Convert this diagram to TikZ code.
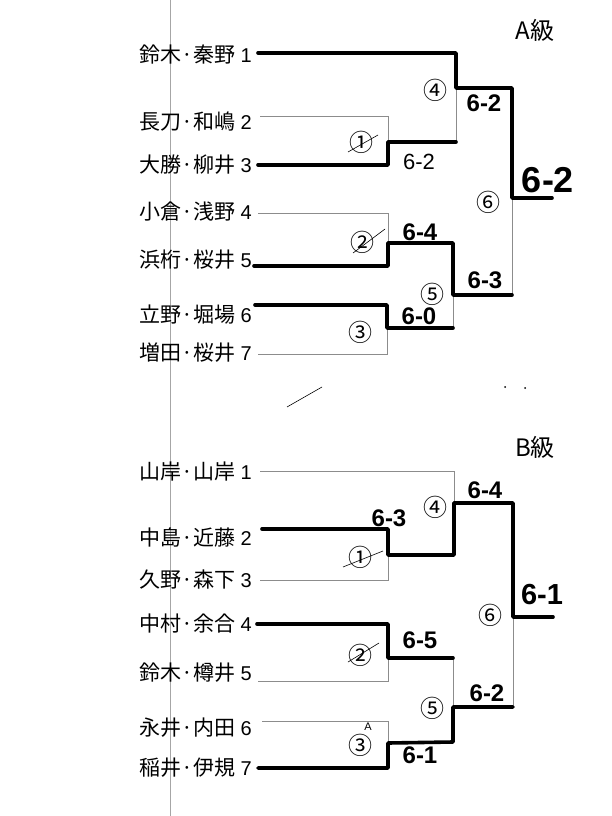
\documentclass[tikz,border=0pt]{standalone}
\usepackage{fontspec}
\setmainfont{Liberation Sans}
\newfontfamily\cjk{Noto Sans CJK JP}
\tikzset{
  thn/.style={draw=black!45, line width=0.6pt},
  thk/.style={draw=black, line width=3.6pt, line cap=round, line join=round},
  pname/.style={anchor=east, inner sep=0pt, font=\fontsize{20}{20}\selectfont},
  score/.style={inner sep=0pt, font=\bfseries\fontsize{24}{24}\selectfont},
  bigscore/.style={inner sep=0pt, font=\bfseries\fontsize{36}{36}\selectfont},
  midscore/.style={inner sep=0pt, font=\bfseries\fontsize{29}{29}\selectfont},
  smallscore/.style={inner sep=0pt, font=\fontsize{22}{22}\selectfont},
  circ/.style={inner sep=0pt, font=\cjk\fontsize{24}{24}\selectfont},
  grade/.style={inner sep=0pt, font=\cjk\fontsize{24}{24}\selectfont},
  slash/.style={draw=black, line width=0.6pt},
}
\newcommand{\nm}[2]{{\cjk\fontsize{21}{21}\selectfont #1}\hspace{5pt}#2}
\begin{document}
\begin{tikzpicture}[x=1pt,y=-1pt]
\fill[white] (0,0) rectangle (612,816);
\useasboundingbox (0,0) rectangle (612,816);
\draw[draw=black!35, line width=0.5pt] (170,0) -- (170,816);

% ---------------- A class ----------------
\node[grade] (Agrade) at (535,30) {A級};
\node[pname] (An1) at (252,55)  {\nm{鈴木·秦野}{1}};
\node[pname] (An2) at (252,122) {\nm{長刀·和嶋}{2}};
\node[pname] (An3) at (252,165) {\nm{大勝·柳井}{3}};
\node[pname] (An4) at (252,212) {\nm{小倉·浅野}{4}};
\node[pname] (An5) at (252,260) {\nm{浜桁·桜井}{5}};
\node[pname] (An6) at (252,315) {\nm{立野·堀場}{6}};
\node[pname] (An7) at (252,353) {\nm{増田·桜井}{7}};

\coordinate (A1) at (258,53);  \coordinate (A2) at (260,116);
\coordinate (A3) at (258,165); \coordinate (A4) at (258,213);
\coordinate (A5) at (254,266); \coordinate (A6) at (255,305);
\coordinate (A7) at (258,354);
\coordinate (Am1t) at (388,116); \coordinate (Am1b) at (388,165); \coordinate (Am1w) at (388,142);
\coordinate (Am2t) at (388,213); \coordinate (Am2b) at (388,266); \coordinate (Am2w) at (388,243);
\coordinate (Am3t) at (387,305); \coordinate (Am3b) at (387,354); \coordinate (Am3w) at (387,328);
\coordinate (Am4t) at (456,53);  \coordinate (Am4b) at (456,142); \coordinate (Am4w) at (456,88);
\coordinate (Am5t) at (453,243); \coordinate (Am5b) at (453,328); \coordinate (Am5w) at (453,295);
\coordinate (Am6t) at (512,88);  \coordinate (Am6b) at (512,295); \coordinate (Am6w) at (512,198);
\coordinate (Awin) at (552,198);

\draw[thn] (A2) -- (Am1t) -- (Am1w);
\draw[thn] (Am4w) -- (Am4b);
\draw[thn] (Am6w) -- (Am6b);
\draw[thn] (A4) -- (Am2t) -- (Am2w);
\draw[thn] (Am5w) -- (Am5b);
\draw[thn] (A7) -- (Am3b) -- (Am3w);

\draw[thk] (A1) -- (Am4t) -- (Am4w) -- (Am6t) -- (Am6w) -- (Awin);
\draw[thk] (A3) -- (Am1b) -- (Am1w) -- (Am4b);
\draw[thk] (A5) -- (Am2b) -- (Am2w) -- (Am5t) -- (Am5w) -- (Am6b);
\draw[thk] (A6) -- (Am3t) -- (Am3w) -- (Am5b);

\node[circ] (Ac4) at (435,90) {④};
\node[score] (As4) at (484,103) {6-2};
\node[circ] (Ac1) at (361,142) {①};
\draw[slash] (348,152) -- (378,135);
\node[smallscore] (As1) at (419,162) {6-2};
\node[bigscore] (As6) at (548,180) {6-2};
\node[circ] (Ac6) at (488,202) {⑥};
\node[score] (As2) at (420,232) {6-4};
\node[circ] (Ac2) at (362,242) {②};
\draw[slash] (353,253) -- (385,229);
\node[score] (As5) at (485,280) {6-3};
\node[circ] (Ac5) at (432,294) {⑤};
\node[score] (As3) at (419,316) {6-0};
\node[circ] (Ac3) at (360,332) {③};

% stray marks
\draw[slash] (287,407) -- (322,387);
\fill (505,387) circle (1pt);
\fill (525,388) circle (1pt);

% ---------------- B class ----------------
\node[grade] (Bgrade) at (535,447) {B級};
\node[pname] (Bn1) at (252,472) {\nm{山岸·山岸}{1}};
\node[pname] (Bn2) at (252,538) {\nm{中島·近藤}{2}};
\node[pname] (Bn3) at (252,580) {\nm{久野·森下}{3}};
\node[pname] (Bn4) at (252,624) {\nm{中村·余合}{4}};
\node[pname] (Bn5) at (252,673) {\nm{鈴木·樽井}{5}};
\node[pname] (Bn6) at (252,728) {\nm{永井·内田}{6}};
\node[pname] (Bn7) at (252,768) {\nm{稲井·伊規}{7}};

\coordinate (B1) at (260,471); \coordinate (B2) at (262,529);
\coordinate (B3) at (260,580); \coordinate (B4) at (257,624);
\coordinate (B5) at (258,681); \coordinate (B6) at (262,721);
\coordinate (B7) at (258,768);
\coordinate (Bm1t) at (388,529); \coordinate (Bm1b) at (388,580); \coordinate (Bm1w) at (388,555);
\coordinate (Bm2t) at (388,624); \coordinate (Bm2b) at (388,681); \coordinate (Bm2w) at (388,658);
\coordinate (Bm3t) at (388,721); \coordinate (Bm3b) at (388,768); \coordinate (Bm3w) at (388,743);
\coordinate (Bm4t) at (454,471); \coordinate (Bm4b) at (454,555); \coordinate (Bm4w) at (454,503);
\coordinate (Bm5t) at (453,658); \coordinate (Bm5b) at (453,742); \coordinate (Bm5w) at (453,707);
\coordinate (Bm6t) at (513,503); \coordinate (Bm6b) at (513,707); \coordinate (Bm6w) at (513,617);
\coordinate (Bwin) at (553,617);

\draw[thn] (B1) -- (Bm4t) -- (Bm4w);
\draw[thn] (B3) -- (Bm1b) -- (Bm1w);
\draw[thn] (B5) -- (Bm2b) -- (Bm2w);
\draw[thn] (Bm5t) -- (Bm5w);
\draw[thn] (B6) -- (Bm3t) -- (Bm3w);
\draw[thn] (Bm6w) -- (Bm6b);

\draw[thk] (B2) -- (Bm1t) -- (Bm1w) -- (Bm4b) -- (Bm4w) -- (Bm6t) -- (Bm6w) -- (Bwin);
\draw[thk] (B4) -- (Bm2t) -- (Bm2w) -- (Bm5t);
\draw[thk] (B7) -- (Bm3b) -- (Bm3w) -- (Bm5b) -- (Bm5w) -- (Bm6b);

\node[score] (Bs4) at (485,490) {6-4};
\node[circ] (Bc4) at (435,507) {④};
\node[score] (Bs1) at (389,518) {6-3};
\node[circ] (Bc1) at (360,557) {①};
\draw[slash] (343,567) -- (383,551);
\node[midscore] (Bs6) at (542,595) {6-1};
\node[circ] (Bc6) at (490,615) {⑥};
\node[score] (Bs2) at (420,640) {6-5};
\node[circ] (Bc2) at (360,655) {②};
\draw[slash] (348,662) -- (379,643);
\node[score] (Bs5) at (487,693) {6-2};
\node[circ] (Bc5) at (432,708) {⑤};
\node[inner sep=0pt, font=\fontsize{11}{11}\selectfont] (BA) at (368,727) {A};
\node[circ] (Bc3) at (360,745) {③};
\node[score] (Bs3) at (420,755) {6-1};
\end{tikzpicture}
\end{document}
